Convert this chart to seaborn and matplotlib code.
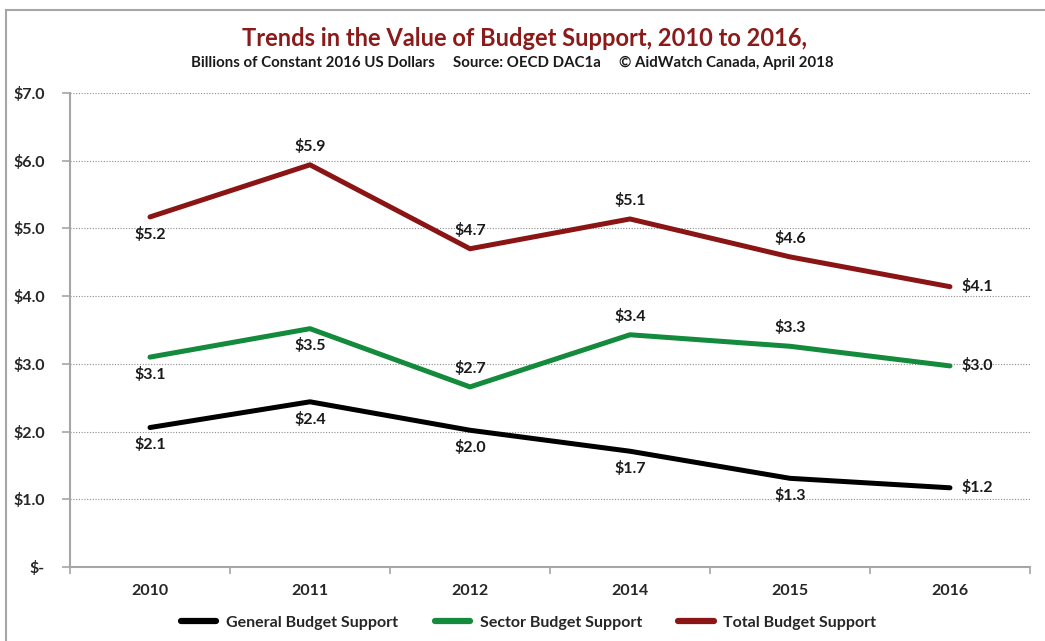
import numpy as np
import pandas as pd
import seaborn as sns
import matplotlib.pyplot as plt
from matplotlib.patches import Rectangle
from matplotlib.ticker import FixedLocator

# data (billions of constant 2016 USD)
years = ["2010", "2011", "2012", "2014", "2015", "2016"]
general = [2.06, 2.44, 2.02, 1.71, 1.31, 1.17]
sector = [3.10, 3.52, 2.66, 3.43, 3.26, 2.97]
total = [5.17, 5.94, 4.70, 5.14, 4.58, 4.14]

series = ["General Budget Support", "Sector Budget Support", "Total Budget Support"]
colors = ["#000000", "#138a3c", "#8b1414"]
# where each data label sits: below / above / right
label_pos = {
    "General Budget Support": ["b", "b", "b", "b", "b", "r"],
    "Sector Budget Support": ["b", "b", "a", "a", "a", "r"],
    "Total Budget Support": ["b", "a", "a", "a", "a", "r"],
}

df = pd.DataFrame({
    "year": years * 3,
    "value": general + sector + total,
    "series": np.repeat(series, len(years)),
})

sns.set_style("white")
plt.rcParams["font.family"] = ["Lato", "DejaVu Sans"]
plt.rcParams["font.weight"] = "bold"

fig = plt.figure(figsize=(10.45, 6.41), dpi=100)
ax = fig.add_axes([0.067, 0.1154, 0.9186, 0.7395])

sns.lineplot(data=df, x="year", y="value", hue="series", hue_order=series,
             palette=colors, linewidth=3.6, sort=False, ax=ax, legend=False)

ax.set_xlim(-0.5, 5.5)
ax.set_ylim(0, 7)
ax.set_xlabel("")
ax.set_ylabel("")

ax.set_yticks(range(0, 8))
ax.set_yticklabels(["$-"] + [f"${v:.1f}" for v in range(1, 8)],
                   fontsize=11.5, fontweight="bold")
ax.set_xticks(range(len(years)))
ax.set_xticklabels(years, fontsize=11.5, fontweight="bold")
ax.xaxis.set_minor_locator(FixedLocator(np.arange(-0.5, 6, 1)))
ax.tick_params(axis="x", which="major", length=0, pad=12)
ax.tick_params(axis="x", which="minor", length=5, color="#a6a6a6", width=1.2,
               direction="out", bottom=True)
ax.tick_params(axis="y", length=6, color="#a6a6a6", width=1.2, direction="out",
               left=True, pad=12)

for y in range(1, 8):
    ax.axhline(y, color="#8c8c8c", lw=0.8, ls=(0, (1, 1.5)), zorder=0)

for s in ["top", "right"]:
    ax.spines[s].set_visible(False)
for s in ["left", "bottom"]:
    ax.spines[s].set_color("#a6a6a6")
    ax.spines[s].set_linewidth(1.5)

for name, vals in zip(series, [general, sector, total]):
    for i, v in enumerate(vals):
        p = label_pos[name][i]
        if p == "b":
            ax.annotate(f"${v:.1f}", (i, v), xytext=(0, -7), textcoords="offset points",
                        ha="center", va="top", fontsize=11.5, fontweight="bold", color="#1a1a1a")
        elif p == "a":
            ax.annotate(f"${v:.1f}", (i, v), xytext=(0, 8), textcoords="offset points",
                        ha="center", va="bottom", fontsize=11.5, fontweight="bold", color="#1a1a1a")
        else:
            ax.annotate(f"${v:.1f}", (i, v), xytext=(8, 0), textcoords="offset points",
                        ha="left", va="center", fontsize=11.5, fontweight="bold", color="#1a1a1a")

fig.text(0.502, 0.94, "Trends in the Value of Budget Support, 2010 to 2016,",
         ha="center", va="center", fontsize=17, fontweight="bold", color="#8b1a1a")
fig.text(0.49, 0.902,
         "Billions of Constant 2016 US Dollars     Source: OECD DAC1a     \u00a9 AidWatch Canada, April 2018",
         ha="center", va="center", fontsize=10.8, fontweight="bold", color="#1a1a1a")

handles = [plt.Line2D([], [], color=c, lw=4.5, solid_capstyle="round") for c in colors]
fig.legend(handles, series, loc="center", bbox_to_anchor=(0.506, 0.029), ncol=3,
           frameon=False, fontsize=11.5, handlelength=2.2, columnspacing=2.3,
           handletextpad=0.6)

fig.add_artist(Rectangle((6 / 1045, -0.1), 1.1, 1 - 10 / 641 + 0.1,
                         transform=fig.transFigure, fill=False,
                         edgecolor="#a6a6a6", lw=1.5))

fig.savefig("out.png", dpi=100)
